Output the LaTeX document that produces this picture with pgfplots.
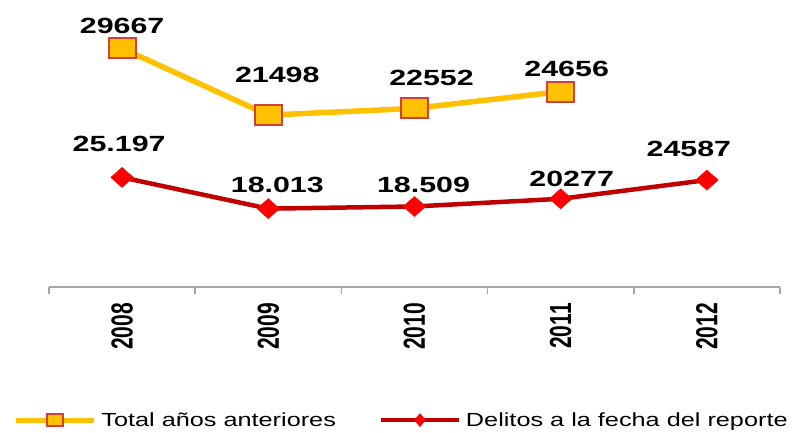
\documentclass[border=0pt]{standalone}
\usepackage{graphicx}
\usepackage{pgfplots}
\pgfplotsset{compat=1.18}
\usepackage{pgfplotstable}
\usepackage{fontspec}
\setmainfont{Liberation Sans}
\newfontfamily\lblfont[FakeStretch=1.38]{Liberation Sans}
\newfontfamily\legfont[FakeStretch=1.33]{Liberation Sans}

\definecolor{gold}{HTML}{FFC000}
\definecolor{sqedge}{HTML}{D0403A}
\definecolor{darkred}{HTML}{C00000}
\definecolor{brightred}{HTML}{FF0000}
\definecolor{axisgray}{HTML}{A6A6A6}

% stacked: yellow series sits on top of the red one
\pgfplotstableread{
x y lab dx dy
0 25197 25.197 -3 25
1 18013 18.013 9 16
2 18509 18.509 9 14
3 20277 20277 11 12
4 24587 24587 -18 23
}\delitos
\pgfplotstableread{
x y lab dx dy
0 29667 29667 0 14
1 21498 21498 9 31
2 22552 22552 17 22
3 24656 24656 6 14
}\anteriores

\begin{document}
\begin{tikzpicture}
\path[use as bounding box] (-49pt,-145pt) rectangle (747pt,287pt);
\begin{axis}[
  scale only axis, width=731pt, height=261pt,
  xmin=-0.5, xmax=4.5, ymin=0, ymax=60000,
  stack plots=y, clip=false,
  axis y line=none, axis x line*=bottom,
  axis line style={axisgray, line width=1.5pt},
  ytick=\empty,
  xtick={0,...,4},
  xticklabels={\scalebox{1}[1.45]{2008},\scalebox{1}[1.45]{2009},\scalebox{1}[1.45]{2010},\scalebox{1}[1.45]{2011},\scalebox{1}[1.45]{2012}},
  major tick length=0pt,
  minor xtick={-0.5,0.5,1.5,2.5,3.5,4.5},
  minor tick length=7pt, tick align=outside,
  minor tick style={axisgray, line width=1.5pt},
  xticklabel style={yshift=-16pt, rotate=90, anchor=east, inner sep=0pt,
    font=\fontsize{21}{24}\selectfont\bfseries},
  point meta=explicit symbolic,
  nodes near coords,
  visualization depends on={\thisrow{dx}\as\dx},
  visualization depends on={\thisrow{dy}\as\dy},
  nodes near coords style={anchor=south, inner sep=0pt, xshift=\dx pt, yshift=\dy pt,
    text=black, font=\lblfont\fontsize{22}{24}\selectfont\bfseries},
  reverse legend,
  legend columns=2,
  legend style={draw=none, fill=none, at={(-0.049,-0.51)}, anchor=west, inner sep=0pt,
    font=\legfont\fontsize{19}{22}\selectfont,
    /tikz/every odd column/.append style={column sep=5pt},
    /tikz/every even column/.append style={column sep=43pt},
    nodes={inner sep=0pt}},
  legend image code/.code={\draw[mark repeat=2, mark phase=2, #1] plot coordinates {(0pt,0pt) (39pt,0pt) (78pt,0pt)};},
]
\addplot[darkred, line width=4.5pt, mark=diamond*, mark size=10pt,
  mark options={fill=brightred, draw=brightred, line width=0.5pt, xscale=1.5},
  legend image post style={line width=4pt, mark size=6.5pt, mark options={fill=brightred, draw=brightred, line width=0.5pt, xscale=1.1}}]
  table[x=x, y=y, meta=lab] {\delitos};
\addplot[gold, line width=5.5pt, mark=square*, mark size=10pt,
  mark options={fill=gold, draw=sqedge, line width=2pt, xscale=1.35},
  legend image post style={line width=5pt, mark size=6pt}]
  table[x=x, y=y, meta=lab] {\anteriores};
\legend{Delitos a la fecha del reporte, Total años anteriores}
\end{axis}
\end{tikzpicture}
\end{document}
